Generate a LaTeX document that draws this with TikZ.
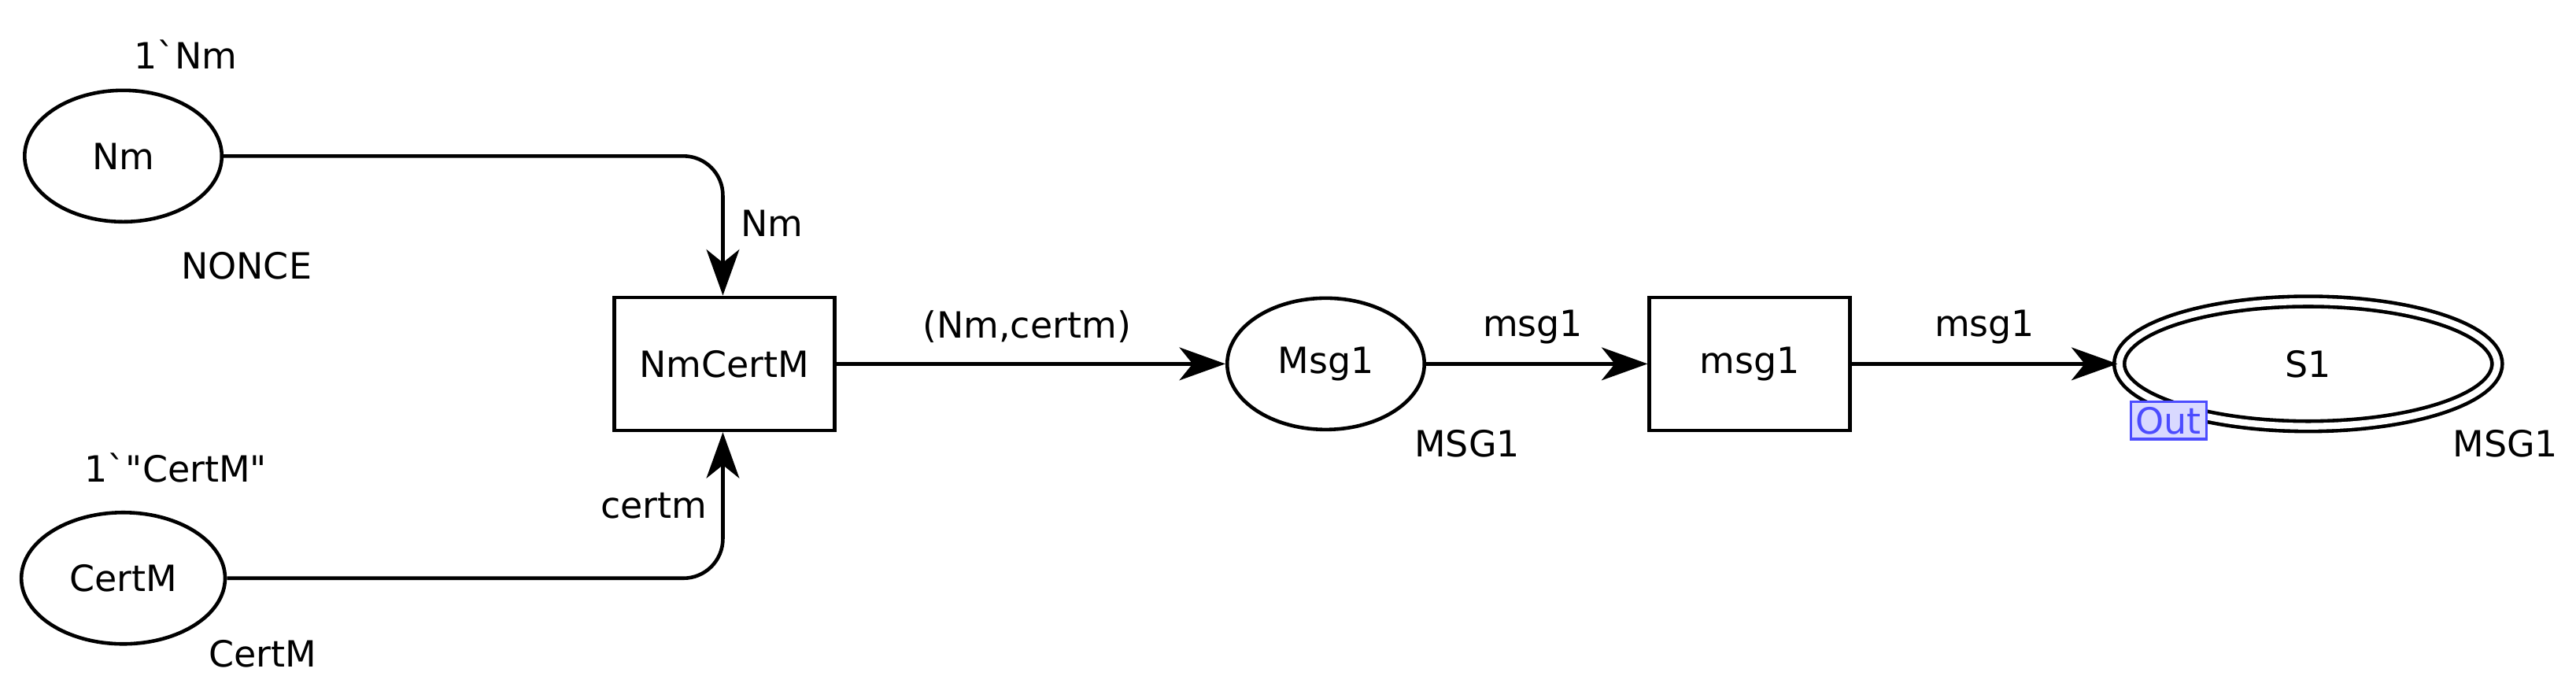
\documentclass[tikz,border=0pt]{standalone}
\usepackage{fontspec}
\setmainfont{DejaVu Sans}
\usetikzlibrary{arrows.meta,shapes.geometric}
\begin{document}
\begin{tikzpicture}[x=0.5pt,y=-0.5pt,
  fnt/.style={font=\fontsize{11}{13}\selectfont},
  place/.style={ellipse,draw,line width=1.1pt,minimum width=60pt,minimum height=40pt,inner sep=0pt,fnt},
  trans/.style={rectangle,draw,line width=1.1pt,inner sep=0pt,fnt},
  lbl/.style={fnt},
  arc/.style={line width=1.1pt,-{Stealth[length=14pt,width=10pt,inset=4pt]},rounded corners=12}]
\useasboundingbox (0,0) rectangle (1568,418);
\node[place] (nm) at (75,95) {Nm};
\node[lbl] (nmi) at (113,33) {1\textasciigrave Nm};
\node[lbl] (nmt) at (150,162) {NONCE};
\node[place,minimum width=62pt] (cm) at (75,352) {CertM};
\node[lbl] (cmi) at (107,285) {1\textasciigrave\textquotedbl CertM\textquotedbl};
\node[lbl] (cmt) at (160,398) {CertM};
\node[trans,minimum width=67pt,minimum height=40.5pt] (t1) at (441,221.5) {NmCertM};
\node[place] (m1) at (807,221.5) {Msg1};
\node[lbl] (m1t) at (893,270) {MSG1};
\node[trans,minimum width=61pt,minimum height=40.5pt] (t2) at (1065,221.5) {msg1};
\node[ellipse,draw,double,double distance=2pt,line width=1.1pt,minimum width=115pt,minimum height=38pt,inner sep=0pt,fnt] (s1) at (1405,221.5) {S1};
\node[lbl] (s1t) at (1525,270) {MSG1};
\node[draw=blue!70,fill=blue!15,text=blue!70,inner sep=1.5pt,line width=0.8pt,fnt] (out) at (1320,256) {Out};
\coordinate (c1) at (440,95);
\coordinate (c2) at (440,352);
\draw[arc] (nm.east) -- (c1) -- (t1.north-|c1);
\draw[arc] (cm.east) -- (c2) -- (t1.south-|c2);
\draw[arc] (t1.east) -- (m1.west);
\draw[arc] (m1.east) -- (t2.west);
\draw[arc] (t2.east) -- (s1.west);
\node[lbl] at (470,136) {Nm};
\node[lbl] at (398,308) {certm};
\node[lbl] at (625,199) {(Nm,certm)};
\node[lbl] at (933,199) {msg1};
\node[lbl] at (1208,199) {msg1};
\end{tikzpicture}
\end{document}
